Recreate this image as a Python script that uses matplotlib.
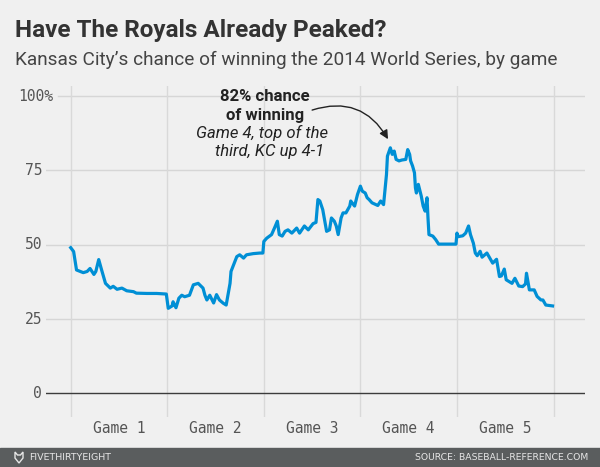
import matplotlib.pyplot as plt
from matplotlib.patches import Rectangle, Polygon

# etiquetas de los juegos y valores del eje y
games = ["Game 1", "Game 2", "Game 3", "Game 4", "Game 5"]
y_ticks = [0, 25, 50, 75, 100]

# avance de la serie (0 = inicio juego 1, 5 = final juego 5)
progress = [
    0.00, 0.03, 0.06, 0.10, 0.13, 0.17, 0.20, 0.24, 0.26, 0.29, 0.32, 0.36,
    0.41, 0.44, 0.48, 0.53, 0.58, 0.65, 0.68, 0.79, 0.89, 0.99,
    1.01, 1.05, 1.06, 1.09, 1.12, 1.15, 1.18, 1.23, 1.27, 1.32, 1.37, 1.39,
    1.41, 1.44, 1.48, 1.51, 1.54, 1.58, 1.61, 1.65, 1.66, 1.72, 1.75, 1.79,
    1.82, 1.89, 1.96, 1.99,
    2.00, 2.03, 2.08, 2.11, 2.14, 2.16, 2.19, 2.22, 2.25, 2.29, 2.34, 2.37,
    2.42, 2.46, 2.51, 2.54, 2.56, 2.58, 2.61, 2.65, 2.68, 2.70, 2.73, 2.75,
    2.77, 2.80, 2.82, 2.85, 2.89, 2.90, 2.94, 2.97, 3.00,
    3.02, 3.05, 3.07, 3.09, 3.12, 3.18, 3.21, 3.24, 3.26, 3.27, 3.28, 3.31,
    3.33, 3.35, 3.37, 3.40, 3.43, 3.47, 3.49, 3.51, 3.52, 3.54, 3.56, 3.57,
    3.58, 3.60, 3.63, 3.65, 3.67, 3.69, 3.70, 3.71, 3.75, 3.78, 3.81, 3.99,
    4.00, 4.01, 4.06, 4.09, 4.12, 4.14, 4.17, 4.19, 4.21, 4.24, 4.26, 4.31,
    4.34, 4.37, 4.41, 4.44, 4.46, 4.49, 4.51, 4.54, 4.57, 4.60, 4.64, 4.68,
    4.71, 4.72, 4.75, 4.80, 4.83, 4.87, 4.89, 4.92, 4.99,
]
# probabilidad de ganar de Kansas City (%)
win_pct = [
    49.0, 47.7, 41.5, 41.0, 40.6, 41.0, 42.0, 40.0, 41.0, 45.0, 41.5, 37.0,
    35.4, 36.0, 35.0, 35.4, 34.5, 34.2, 33.7, 33.6, 33.6, 33.4,
    28.6, 29.4, 30.8, 28.8, 32.0, 33.0, 32.5, 33.0, 36.5, 37.0, 35.4, 33.0,
    31.4, 33.0, 30.4, 33.2, 31.4, 30.3, 29.7, 37.0, 41.0, 46.0, 46.6, 45.5,
    46.6, 47.0, 47.2, 47.2,
    51.1, 52.2, 53.4, 55.6, 57.9, 53.4, 52.9, 54.5, 55.0, 53.9, 55.6, 53.9,
    56.3, 55.0, 57.1, 57.5, 65.2, 64.7, 61.8, 54.5, 55.0, 59.0, 57.9, 56.3,
    53.4, 59.0, 60.7, 60.7, 63.0, 64.7, 63.0, 66.9, 69.7,
    68.0, 67.4, 65.8, 65.2, 64.1, 63.2, 64.7, 63.5, 70.3, 73.6, 79.8, 82.6,
    80.4, 81.5, 78.7, 78.2, 78.5, 78.7, 82.0, 80.4, 78.2, 76.5, 74.2, 69.1,
    67.4, 70.3, 66.4, 63.0, 61.3, 65.8, 59.0, 53.4, 52.9, 51.7, 50.2, 50.2,
    53.9, 52.7, 53.0, 53.9, 56.3, 53.4, 50.5, 47.2, 46.3, 47.8, 45.8, 47.2,
    45.5, 43.8, 45.1, 39.3, 39.5, 41.8, 38.2, 37.6, 37.0, 38.7, 36.1, 35.9,
    36.8, 40.4, 34.8, 34.8, 32.6, 31.4, 31.4, 29.7, 29.4,
]

W, H = 600, 467
bg = '#f0f0f0'


def fx(px):
    return px / W


def fy(py):
    return 1 - py / H


fig = plt.figure(figsize=(6, 4.67), dpi=100, facecolor=bg)

ax = fig.add_axes([fx(46), fy(417), (585 - 46) / W, (417 - 86) / H])
ax.set_xlim(-0.256, 5.326)
ax.set_ylim(-7.97, 103.4)
ax.axis('off')

# rejilla
for v in y_ticks[1:]:
    xmin = 0.022 if v == 100 else 0
    ax.axhline(v, xmin=xmin, color='#d6d6d6', lw=1.0, zorder=0)
for i in range(len(games) + 1):
    ax.axvline(i, color='#d9d9d9', lw=1.0, zorder=0)
ax.axhline(0, color='#3c3c3c', lw=1.0, zorder=1)

# etiquetas del eje y
for v in y_ticks:
    lab = f"{v}%" if v == 100 else str(v)
    xpos = -0.183 if v == 100 else -0.297
    ax.text(xpos, v, lab, ha='right', va='center', fontsize=10.5,
            family='DejaVu Sans Mono', color='#555555')

# etiquetas de los juegos
for i, g in enumerate(games):
    ax.text(i + 0.5, -11.9, g, ha='center', va='center', fontsize=10.5,
            family='DejaVu Sans Mono', color='#555555')

# la linea
ax.plot(progress, win_pct, color='#008fd5', lw=2.3, solid_joinstyle='round', zorder=3)

# anotacion del pico
ax.text(2.01, 99.8, "82% chance", ha='center', va='center', fontsize=12,
        family='Roboto', weight='bold', color='#222222')
ax.text(2.01, 93.6, "of winning", ha='center', va='center', fontsize=12,
        family='Roboto', weight='bold', color='#222222')
ax.text(1.98, 87.6, "Game 4, top of the", ha='center', va='center', fontsize=12,
        family='Roboto', style='italic', color='#222222')
ax.text(2.06, 81.5, "third, KC up 4-1", ha='center', va='center', fontsize=12,
        family='Roboto', style='italic', color='#222222')
ax.annotate('', xy=(3.286, 85.5), xytext=(2.50, 95.3),
            arrowprops=dict(arrowstyle='-|>', color='#222222', lw=1.0,
                            connectionstyle='arc3,rad=-0.4',
                            mutation_scale=13, shrinkA=0, shrinkB=0))

# titulo y subtitulo
fig.text(fx(15), fy(37), "Have The Royals Already Peaked?", ha='left', va='baseline',
         fontsize=17.5, family='Roboto', weight='bold', color='#333333')
fig.text(fx(15), fy(65), "Kansas City\u2019s chance of winning the 2014 World Series, by game",
         ha='left', va='baseline', fontsize=13.7, family='Roboto', color='#444444')

# pie
fig.patches.append(Rectangle((0, 0), 1, fy(448), transform=fig.transFigure,
                             color='#5a5d5e', zorder=0))
fox = [(15, 452), (17.5, 455), (20.5, 455), (23, 452), (23, 458), (19, 463), (15, 458)]
fig.patches.append(Polygon([(fx(a), fy(b)) for a, b in fox], closed=True,
                           transform=fig.transFigure, fill=False,
                           edgecolor='#e6e6e6', lw=1.0))
fig.text(fx(29), fy(458), "FIVETHIRTYEIGHT", ha='left', va='center', fontsize=6.8,
         family='DejaVu Sans', color='#e6e6e6')
fig.text(fx(588), fy(458), "SOURCE: BASEBALL-REFERENCE.COM", ha='right', va='center',
         fontsize=6.7, family='DejaVu Sans', color='#e6e6e6')

fig.savefig('out.png', dpi=100, facecolor=bg)
